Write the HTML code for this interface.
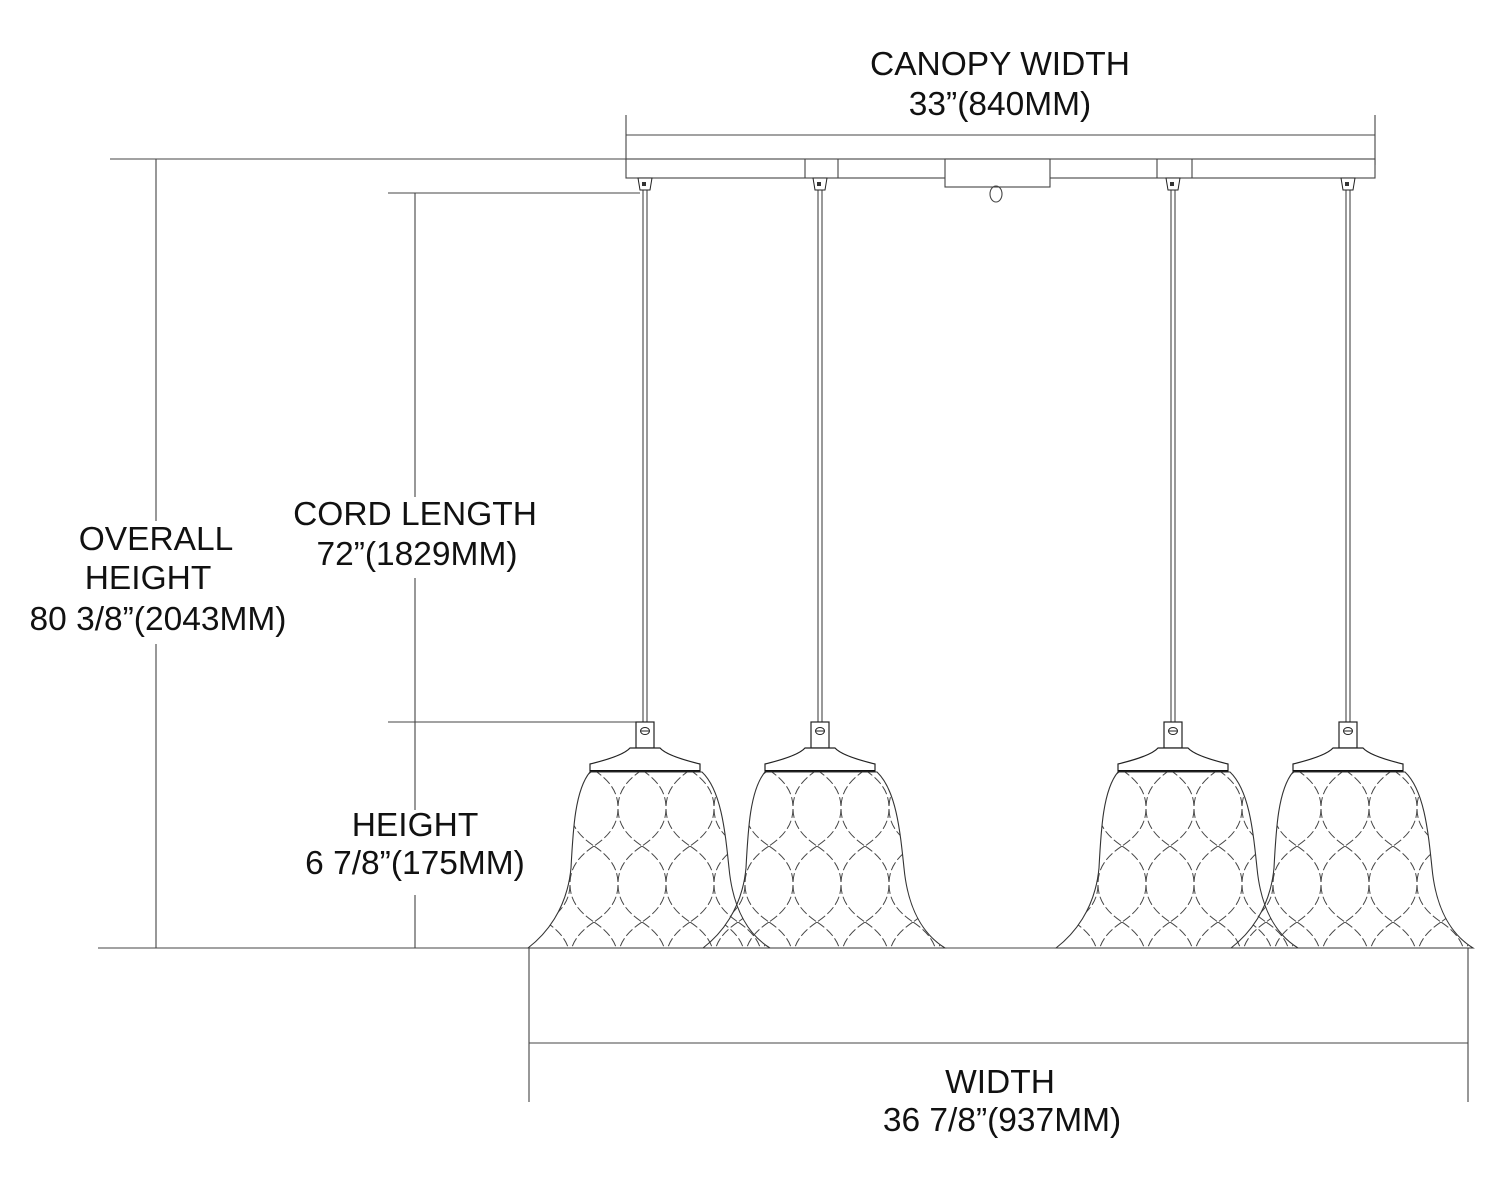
<!DOCTYPE html>
<html><head><meta charset="utf-8"><style>
html,body{margin:0;padding:0;background:#fff;}
svg{display:block;}
text{font-family:"Liberation Sans",Arial,sans-serif;font-size:33.5px;fill:#111;text-anchor:middle;}
</style></head><body>
<svg width="1500" height="1188" viewBox="0 0 1500 1188" xmlns="http://www.w3.org/2000/svg">
<defs>
<pattern id="og" patternUnits="userSpaceOnUse" x="-3" y="770" width="48" height="76">
<g fill="none" stroke="#444" stroke-width="1" stroke-dasharray="9 3">
<path d="M0,0 C18,12 24,24 24,38 C24,52 30,64 48,76"/>
<path d="M48,0 C30,12 24,24 24,38 C24,52 18,64 0,76"/>
</g>
</pattern>
<g id="pend">
<rect x="-9" y="722" width="18" height="26" fill="#fff" stroke="#222" stroke-width="1.2"/>
<ellipse cx="0" cy="731" rx="4.5" ry="3.5" fill="none" stroke="#222" stroke-width="1"/>
<line x1="-4.5" y1="731" x2="4.5" y2="731" stroke="#222" stroke-width="1"/>
<path d="M-15,748 L15,748 Q22,756 55,764 L55,771 L-55,771 L-55,764 Q-22,756 -15,748 Z" fill="#fff" stroke="#222" stroke-width="1.2"/>
<line x1="-55" y1="771" x2="55" y2="771" stroke="#111" stroke-width="2"/>
<path d="M-55,772 C-70,790 -72,830 -74,868 C-78,910 -100,935 -117,948 L125,948 C104,935 88,910 84,868 C80,830 76,790 57,772 Z" fill="url(#og)" stroke="#333" stroke-width="1.1"/>
</g>
<g id="cordtop">
<path d="M-7,178 L7,178 L5,190 L-5,190 Z" fill="#fff" stroke="#222" stroke-width="1"/>
<rect x="-3" y="182" width="4" height="4" fill="#333"/>
<line x1="-2" y1="190" x2="-2" y2="722" stroke="#333" stroke-width="1"/>
<line x1="2" y1="190" x2="2" y2="722" stroke="#333" stroke-width="1"/>
</g>
</defs>
<g stroke="#444" stroke-width="1.1" fill="none">
<line x1="626" y1="135" x2="1375" y2="135"/>
<line x1="626" y1="115" x2="626" y2="160"/>
<line x1="1375" y1="115" x2="1375" y2="165"/>
<rect x="626" y="159" width="749" height="19" fill="#fff"/>
<line x1="805" y1="159" x2="805" y2="178"/><line x1="838" y1="159" x2="838" y2="178"/>
<line x1="1157" y1="159" x2="1157" y2="178"/><line x1="1192" y1="159" x2="1192" y2="178"/>
<rect x="945" y="159" width="105" height="28" fill="#fff"/>
<ellipse cx="996" cy="194" rx="6" ry="8"/>
<line x1="110" y1="159" x2="626" y2="159"/>
<line x1="156" y1="159" x2="156" y2="521"/>
<line x1="156" y1="644" x2="156" y2="948"/>
<line x1="98" y1="948" x2="1468" y2="948"/>
<line x1="388" y1="193" x2="640" y2="193"/>
<line x1="415" y1="193" x2="415" y2="497"/>
<line x1="415" y1="578" x2="415" y2="810"/>
<line x1="415" y1="895" x2="415" y2="948"/>
<line x1="388" y1="722" x2="636" y2="722"/>
<line x1="529" y1="948" x2="529" y2="1102"/>
<line x1="1468" y1="948" x2="1468" y2="1102"/>
<line x1="529" y1="1043" x2="1468" y2="1043"/>
</g>
<use href="#cordtop" x="645"/><use href="#cordtop" x="820"/><use href="#cordtop" x="1173"/><use href="#cordtop" x="1348"/>
<use href="#pend" x="645"/><use href="#pend" x="820"/><use href="#pend" x="1173"/><use href="#pend" x="1348"/>
<text x="1000" y="75">CANOPY WIDTH</text>
<text x="1000" y="115">33”(840MM)</text>
<text x="156" y="550">OVERALL</text>
<text x="148" y="589">HEIGHT</text>
<text x="158" y="630">80 3/8”(2043MM)</text>
<text x="415" y="525">CORD LENGTH</text>
<text x="417" y="565">72”(1829MM)</text>
<text x="415" y="836">HEIGHT</text>
<text x="415" y="874">6 7/8”(175MM)</text>
<text x="1000" y="1093">WIDTH</text>
<text x="1002" y="1131">36 7/8”(937MM)</text>
</svg>
</body></html>
